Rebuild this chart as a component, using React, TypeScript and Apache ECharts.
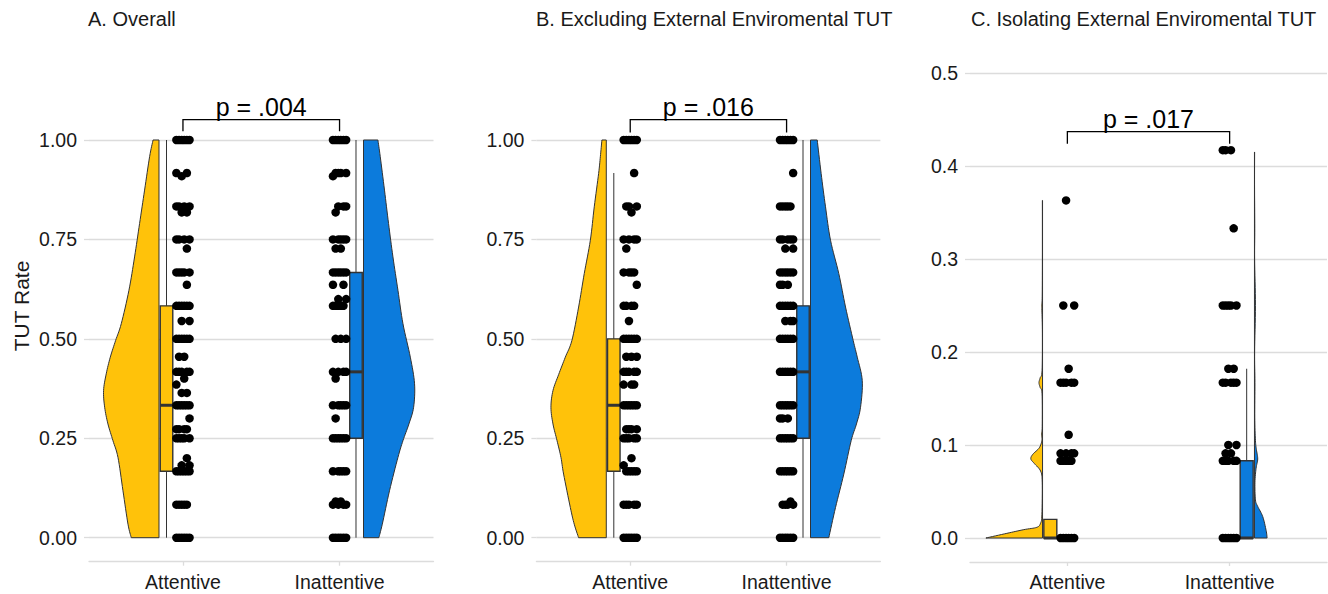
import React, { useEffect, useRef } from "react";
import * as echarts from "echarts";

// ---------- data ----------
const CATEGORIES = ["Attentive", "Inattentive"];
const PANEL_TITLES = [
  "A. Overall",
  "B. Excluding External Enviromental TUT",
  "C. Isolating External Enviromental TUT",
];
const Y_AXIS_TITLE = "TUT Rate";
const Y_MAX = [1, 1, 0.5];
const Y_STEP = [0.25, 0.25, 0.1];
const Y_DECIMALS = [2, 2, 1];
const P_LABELS = ["p = .004", "p = .016", "p = .017"];
const BRACKET_TOP = [1.051, 1.051, 0.437];
const BRACKET_FOOT = [1.022, 1.019, 0.424];

// individual participant TUT rates (jittered points)
const A_ATTENTIVE = [1, 1, 1, 1, 1, 1, 0.917, 0.917, 0.909, 0.833, 0.833, 0.833, 0.833, 0.818, 0.818,
  0.75, 0.75, 0.75, 0.75, 0.727, 0.667, 0.667, 0.667, 0.667, 0.667, 0.636, 0.583, 0.583, 0.583, 0.583, 0.583, 0.583,
  0.545, 0.545, 0.5, 0.5, 0.5, 0.5, 0.5, 0.5, 0.455, 0.455, 0.417, 0.417, 0.417, 0.417, 0.417, 0.4, 0.385,
  0.364, 0.364, 0.333, 0.333, 0.333, 0.333, 0.333, 0.333, 0.3, 0.273, 0.273, 0.273, 0.273,
  0.25, 0.25, 0.25, 0.25, 0.25, 0.2, 0.182, 0.182, 0.167, 0.167, 0.167, 0.167, 0.167, 0.167,
  0.083, 0.083, 0.083, 0.083, 0.083, 0, 0, 0, 0, 0, 0];
const A_INATTENTIVE = [1, 1, 1, 1, 1, 1, 0.917, 0.917, 0.917, 0.917, 0.909, 0.833, 0.833, 0.833, 0.818,
  0.75, 0.75, 0.75, 0.75, 0.75, 0.727, 0.727, 0.667, 0.667, 0.667, 0.667, 0.667, 0.667, 0.636, 0.636, 0.6, 0.6,
  0.583, 0.583, 0.583, 0.583, 0.583, 0.5, 0.5, 0.5, 0.417, 0.417, 0.417, 0.417, 0.4,
  0.333, 0.333, 0.333, 0.333, 0.333, 0.3, 0.25, 0.25, 0.25, 0.25, 0.25, 0.25,
  0.167, 0.167, 0.167, 0.167, 0.167, 0.091, 0.091, 0.083, 0.083, 0.083, 0.083, 0, 0, 0, 0, 0, 0];
const B_ATTENTIVE = [1, 1, 1, 1, 1, 1, 0.917, 0.833, 0.833, 0.833, 0.818, 0.75, 0.75, 0.75, 0.75, 0.727,
  0.667, 0.667, 0.667, 0.667, 0.636, 0.583, 0.583, 0.583, 0.583, 0.545, 0.5, 0.5, 0.5, 0.5, 0.5, 0.5,
  0.455, 0.455, 0.455, 0.417, 0.417, 0.417, 0.417, 0.417, 0.385, 0.385, 0.385,
  0.333, 0.333, 0.333, 0.333, 0.333, 0.333, 0.273, 0.273, 0.273, 0.273, 0.25, 0.25, 0.25, 0.25, 0.25, 0.2, 0.182,
  0.167, 0.167, 0.167, 0.167, 0.167, 0.083, 0.083, 0.083, 0.083, 0.083, 0, 0, 0, 0, 0, 0];
const B_INATTENTIVE = [1, 1, 1, 1, 1, 1, 0.917, 0.833, 0.833, 0.833, 0.833, 0.833, 0.75, 0.75, 0.75, 0.75, 0.75,
  0.727, 0.727, 0.667, 0.667, 0.667, 0.667, 0.667, 0.667, 0.636, 0.636, 0.636, 0.583, 0.583, 0.583, 0.583, 0.583,
  0.583, 0.545, 0.545, 0.545, 0.5, 0.5, 0.5, 0.5, 0.5, 0.5, 0.417, 0.417, 0.417, 0.417, 0.417, 0.417,
  0.333, 0.333, 0.333, 0.333, 0.333, 0.333, 0.3, 0.3, 0.3, 0.25, 0.25, 0.25, 0.25, 0.25, 0.25,
  0.167, 0.167, 0.167, 0.167, 0.167, 0.167, 0.091, 0.083, 0.083, 0.083, 0.083, 0, 0, 0, 0, 0, 0];
const C_ATTENTIVE = [0.363, 0.25, 0.25, 0.182, 0.167, 0.167, 0.167, 0.167, 0.167, 0.111, 0.091, 0.091, 0.091, 0.091,
  0.083, 0.083, 0.083, 0.083, 0.083, 0, 0, 0, 0, 0, 0];
const C_INATTENTIVE = [0.417, 0.417, 0.417, 0.333, 0.25, 0.25, 0.25, 0.25, 0.25, 0.182, 0.182, 0.167, 0.167, 0.167,
  0.167, 0.167, 0.1, 0.1, 0.091, 0.091, 0.083, 0.083, 0.083, 0.083, 0.083, 0, 0, 0, 0, 0, 0];

// boxplot stats: [lower whisker, Q1, median, Q3, upper whisker]
const BOX_A = [[0, 0.167, 0.333, 0.583, 1], [0, 0.25, 0.417, 0.667, 1]];
const BOX_B = [[0, 0.167, 0.333, 0.5, 0.917], [0, 0.25, 0.417, 0.583, 1]];
const BOX_C = [[0, 0, 0, 0.02, 0.02], [0, 0, 0, 0.083, 0.182]];

// half-violin profiles: [value, half-width in category units]
const VIOLIN_A_ATT = [[0, 0.177], [0.034, 0.198], [0.118, 0.23], [0.202, 0.262], [0.244, 0.294], [0.286, 0.326],
  [0.328, 0.347], [0.37, 0.354], [0.412, 0.337], [0.454, 0.311], [0.496, 0.277], [0.538, 0.241], [0.622, 0.192],
  [0.706, 0.156], [0.79, 0.124], [0.874, 0.092], [0.958, 0.06], [1, 0.038]];
const VIOLIN_A_INA = [[0, 0.098], [0.034, 0.12], [0.118, 0.166], [0.202, 0.22], [0.244, 0.252], [0.286, 0.29],
  [0.328, 0.32], [0.387, 0.326], [0.454, 0.299], [0.538, 0.252], [0.622, 0.22], [0.706, 0.188], [0.79, 0.16],
  [0.874, 0.134], [0.958, 0.107], [1, 0.092]];
const VIOLIN_B_ATT = [[0, 0.177], [0.034, 0.205], [0.076, 0.23], [0.16, 0.273], [0.202, 0.29], [0.244, 0.315],
  [0.286, 0.341], [0.328, 0.354], [0.37, 0.341], [0.41, 0.305], [0.454, 0.262], [0.496, 0.22], [0.58, 0.177],
  [0.664, 0.141], [0.748, 0.102], [0.832, 0.077], [0.916, 0.049], [0.958, 0.038], [1, 0.028]];
const VIOLIN_B_INA = [[0, 0.117], [0.076, 0.16], [0.16, 0.213], [0.244, 0.26], [0.286, 0.294], [0.328, 0.32],
  [0.395, 0.331], [0.454, 0.299], [0.496, 0.273], [0.58, 0.224], [0.664, 0.181], [0.748, 0.128], [0.832, 0.096],
  [0.916, 0.068], [1, 0.043]];
const VIOLIN_C_ATT = [[0, 0.349], [0.005, 0.22], [0.009, 0.115], [0.0115, 0.035], [0.016, 0.012], [0.025, 0.004],
  [0.06, 0.002], [0.072, 0.012], [0.08, 0.05], [0.085, 0.072], [0.09, 0.06], [0.097, 0.02], [0.105, 0.004],
  [0.112, 0.006], [0.12, 0.002], [0.155, 0.003], [0.162, 0.015], [0.167, 0.022], [0.172, 0.015], [0.18, 0.003],
  [0.22, 0.001], [0.245, 0.004], [0.25, 0.005], [0.26, 0.002], [0.3, 0.001], [0.363, 0.001]];
const VIOLIN_C_INA = [[0, 0.078], [0.008, 0.072], [0.023, 0.051], [0.034, 0.02], [0.041, 0.006], [0.06, 0.003],
  [0.075, 0.01], [0.085, 0.02], [0.095, 0.012], [0.105, 0.006], [0.13, 0.002], [0.167, 0.003], [0.2, 0.001],
  [0.25, 0.006], [0.3, 0.001], [0.333, 0.002], [0.38, 0.0005], [0.415, 0.001]];

// fixed horizontal jitter pattern (category units)
const JITTER = [-0.042, 0.025, -0.008, 0.042, -0.025, 0.008];

// ---------- layout / style ----------
const FONT = "'Liberation Sans', Arial, Helvetica, sans-serif";
const COLORS = ["#FFC20A", "#0C7BDC"];
const GRID_COLOR = "#dcdcdc";
const OUTLINE = "#333333";
const TEXT = "#1a1a1a";
const GRIDS = [
  { left: 89, top: 140, width: 344.5, height: 397.7 },
  { left: 536.4, top: 140, width: 344, height: 397.7 },
  { left: 970, top: 73, width: 357, height: 465 },
];
const TITLE_X = [88, 536, 971];
const VIOLIN_NUDGE = 0.153;
const BOX_NUDGE = 0.105;
const BOX_HALF = 0.04;

const PANELS = [
  { points: [A_ATTENTIVE, A_INATTENTIVE], boxes: BOX_A, violins: [VIOLIN_A_ATT, VIOLIN_A_INA] },
  { points: [B_ATTENTIVE, B_INATTENTIVE], boxes: BOX_B, violins: [VIOLIN_B_ATT, VIOLIN_B_INA] },
  { points: [C_ATTENTIVE, C_INATTENTIVE], boxes: BOX_C, violins: [VIOLIN_C_ATT, VIOLIN_C_INA] },
];

// Catmull-Rom resampling of a profile outline (rendering only)
function smoothProfile(profile: number[][], steps = 8): number[][] {
  const out: number[][] = [];
  const n = profile.length;
  for (let i = 0; i < n - 1; i++) {
    const p0 = profile[Math.max(0, i - 1)];
    const p1 = profile[i];
    const p2 = profile[i + 1];
    const p3 = profile[Math.min(n - 1, i + 2)];
    for (let s = 0; s < steps; s++) {
      const t = s / steps;
      const t2 = t * t;
      const t3 = t2 * t;
      const f = (a: number, b: number, c: number, d: number) =>
        0.5 * (2 * b + (-a + c) * t + (2 * a - 5 * b + 4 * c - d) * t2 + (-a + 3 * b - 3 * c + d) * t3);
      const v = Math.min(p2[0], Math.max(p1[0], f(p0[0], p1[0], p2[0], p3[0])));
      const w = Math.max(0, f(p0[1], p1[1], p2[1], p3[1]));
      out.push([v, w]);
    }
  }
  out.push(profile[n - 1]);
  return out;
}

function buildOption(): any {
  const series: any[] = [];
  PANELS.forEach((panel, p) => {
    // violins
    panel.violins.forEach((profile, g) => {
      const side = g === 0 ? -1 : 1;
      const cat = g + 1;
      const smooth = smoothProfile(profile);
      series.push({
        type: "custom",
        xAxisIndex: p,
        yAxisIndex: p,
        clip: false,
        z: 2,
        data: [[cat, 0]],
        renderItem: (_params: any, api: any) => {
          const edge = cat + side * VIOLIN_NUDGE;
          const pts: number[][] = [api.coord([edge, smooth[0][0]])];
          smooth.forEach(([v, w]) => pts.push(api.coord([edge + side * w, v])));
          pts.push(api.coord([edge, smooth[smooth.length - 1][0]]));
          return {
            type: "polygon",
            shape: { points: pts },
            style: { fill: COLORS[g], stroke: OUTLINE, lineWidth: 1 },
          };
        },
      });
    });
    // boxes
    panel.boxes.forEach((stats, g) => {
      const side = g === 0 ? -1 : 1;
      const cat = g + 1;
      series.push({
        type: "custom",
        xAxisIndex: p,
        yAxisIndex: p,
        clip: false,
        z: 3,
        data: [[cat, 0]],
        renderItem: (_params: any, api: any) => {
          const [lo, q1, med, q3, hi] = stats;
          const c = cat + side * BOX_NUDGE;
          const pLo = api.coord([c, lo]);
          const pHi = api.coord([c, hi]);
          const tl = api.coord([c - BOX_HALF, q3]);
          const br = api.coord([c + BOX_HALF, q1]);
          const m1 = api.coord([c - BOX_HALF, med]);
          const m2 = api.coord([c + BOX_HALF, med]);
          return {
            type: "group",
            children: [
              {
                type: "line",
                shape: { x1: pLo[0], y1: pLo[1], x2: pHi[0], y2: pHi[1] },
                style: { stroke: OUTLINE, lineWidth: 1 },
              },
              {
                type: "rect",
                shape: { x: tl[0], y: tl[1], width: br[0] - tl[0], height: br[1] - tl[1] },
                style: { fill: COLORS[g], stroke: OUTLINE, lineWidth: 1.4 },
              },
              {
                type: "line",
                shape: { x1: m1[0], y1: m1[1], x2: m2[0], y2: m2[1] },
                style: { stroke: OUTLINE, lineWidth: 3 },
              },
            ],
          };
        },
      });
    });
    // points
    panel.points.forEach((vals, g) => {
      const cat = g + 1;
      series.push({
        type: "scatter",
        xAxisIndex: p,
        yAxisIndex: p,
        z: 4,
        symbol: "circle",
        symbolSize: 8.5,
        itemStyle: { color: "#000000", opacity: 1 },
        data: vals.map((v, i) => [cat + JITTER[(i + g * 2 + p) % JITTER.length], v]),
      });
    });
    // significance bracket
    series.push({
      type: "custom",
      xAxisIndex: p,
      yAxisIndex: p,
      clip: false,
      z: 5,
      data: [[1.5, BRACKET_TOP[p]]],
      renderItem: (_params: any, api: any) => {
        const a = api.coord([1, BRACKET_FOOT[p]]);
        const b = api.coord([1, BRACKET_TOP[p]]);
        const c = api.coord([2, BRACKET_TOP[p]]);
        const d = api.coord([2, BRACKET_FOOT[p]]);
        return {
          type: "group",
          children: [
            {
              type: "polyline",
              shape: { points: [a, b, c, d] },
              style: { stroke: "#000", lineWidth: 1.3, fill: "none" },
            },
            {
              type: "text",
              x: (b[0] + c[0]) / 2,
              y: b[1] - 13,
              style: {
                text: P_LABELS[p],
                fontSize: 25,
                fontFamily: FONT,
                fill: "#000",
                align: "center",
                verticalAlign: "middle",
              },
            },
          ],
        };
      },
    });
  });

  return {
    animation: false,
    backgroundColor: "#ffffff",
    grid: GRIDS.map((g) => ({ ...g, containLabel: false })),
    xAxis: GRIDS.map((_, i) => ({
      type: "value",
      gridIndex: i,
      min: 0.4,
      max: 2.6,
      offset: 24,
      axisLine: { show: true, onZero: false, lineStyle: { color: GRID_COLOR, width: 1.3 } },
      axisTick: { show: true, customValues: [1, 2], length: 4, lineStyle: { color: GRID_COLOR, width: 1.3 } },
      axisLabel: {
        customValues: [1, 2],
        formatter: (v: number) => CATEGORIES[Math.round(v) - 1] ?? "",
        fontSize: 19.5,
        fontFamily: FONT,
        color: TEXT,
        margin: 10,
      },
      splitLine: { show: false },
    })),
    yAxis: GRIDS.map((_, i) => ({
      type: "value",
      gridIndex: i,
      min: 0,
      max: Y_MAX[i],
      interval: Y_STEP[i],
      axisLine: { show: false },
      axisTick: { show: true, length: 5, lineStyle: { color: GRID_COLOR, width: 1.3 } },
      axisLabel: {
        formatter: (v: number) => v.toFixed(Y_DECIMALS[i]),
        fontSize: 19.5,
        fontFamily: FONT,
        color: TEXT,
        margin: 12,
      },
      splitLine: { show: true, lineStyle: { color: GRID_COLOR, width: 1.3 } },
    })),
    graphic: [
      ...PANEL_TITLES.map((t, i) => ({
        type: "text",
        x: TITLE_X[i],
        y: 19,
        style: { text: t, fontSize: 20, fontFamily: FONT, fill: TEXT, textAlign: "left", textVerticalAlign: "middle" },
      })),
      {
        type: "text",
        x: 21,
        y: 306,
        rotation: Math.PI / 2,
        style: {
          text: Y_AXIS_TITLE,
          fontSize: 21,
          fontFamily: FONT,
          fill: TEXT,
          textAlign: "center",
          textVerticalAlign: "middle",
        },
      },
    ],
    series,
  };
}

export default function App() {
  const ref = useRef<HTMLDivElement>(null);
  useEffect(() => {
    const chart = echarts.init(ref.current as HTMLDivElement, null, { renderer: "svg" });
    chart.setOption(buildOption());
    return () => chart.dispose();
  }, []);
  return (
    <div
      ref={ref}
      style={{ position: "absolute", left: 0, top: 0, width: 1328, height: 594, background: "#fff" }}
    />
  );
}
